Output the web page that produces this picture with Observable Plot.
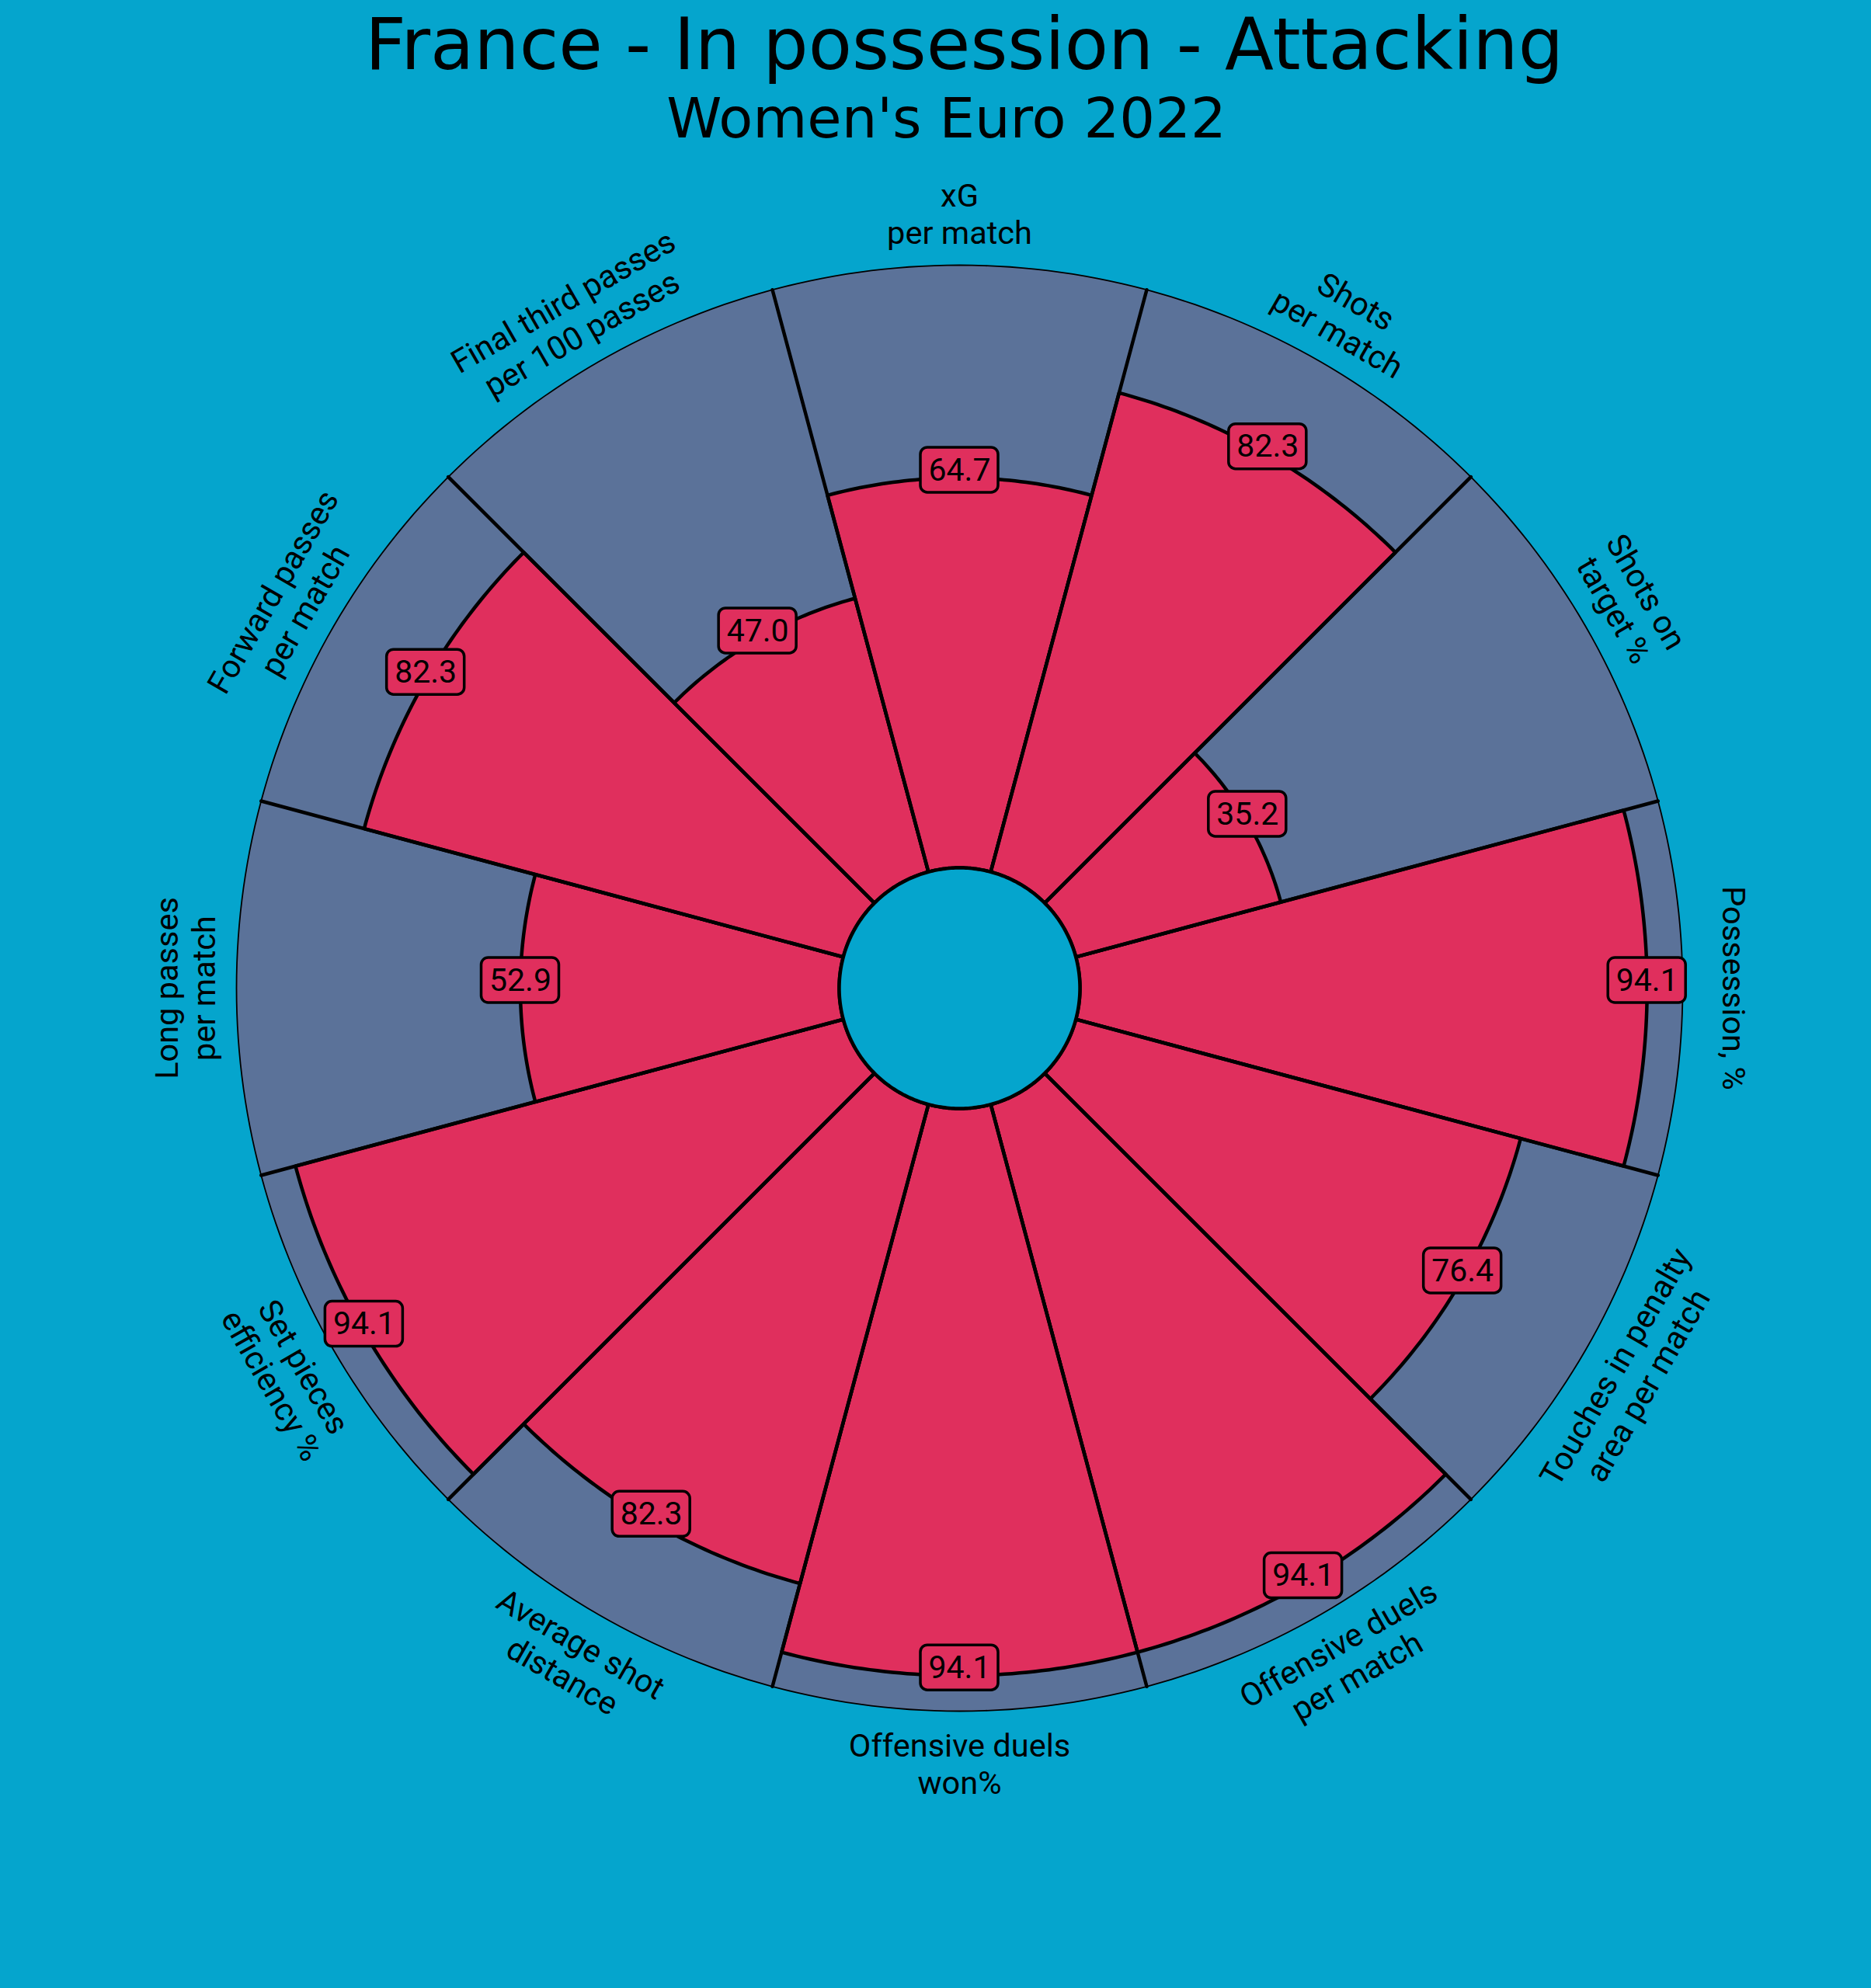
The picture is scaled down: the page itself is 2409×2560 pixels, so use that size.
<!DOCTYPE html>
<html>
<head>
<meta charset="utf-8">
<script src="https://cdn.jsdelivr.net/npm/d3@7"></script>
<script src="https://cdn.jsdelivr.net/npm/@observablehq/plot@0.6"></script>
<style>
  html, body { margin: 0; padding: 0; background: #05a5cd; }
  #wrap { position: relative; width: 2409px; height: 2560px; background: #05a5cd; overflow: hidden; }
  .ttl { position: absolute; width: 2409px; text-align: center; font-family: "DejaVu Sans", sans-serif; color: #000; line-height: 1; white-space: nowrap; }
  #title { top: 12px; left: 37px; font-size: 92px; }
  #subtitle { top: 116px; left: 14px; font-size: 72px; }
  #chart { position: absolute; left: 0; top: 200px; }
</style>
</head>
<body>
<div id="wrap">
  <div id="title" class="ttl"></div>
  <div id="subtitle" class="ttl"></div>
  <div id="chart"></div>
</div>
<script>
// ---- data ----
const title = "France - In possession - Attacking";
const subtitle = "Women's Euro 2022";
const categories = [
  "Possession, %",
  "Touches in penalty\narea per match",
  "Offensive duels\nper match",
  "Offensive duels\nwon%",
  "Average shot\ndistance",
  "Set pieces\nefficiency %",
  "Long passes\nper match",
  "Forward passes\nper match",
  "Final third passes\nper 100 passes",
  "xG\nper match",
  "Shots\nper match",
  "Shots on\ntarget %"
];
const values = [94.1, 76.4, 94.1, 94.1, 82.3, 94.1, 52.9, 82.3, 47.0, 64.7, 82.3, 35.2];

// ---- style / layout ----
const BG = "#05a5cd", SLICE_BG = "#5b7299", RED = "#e02f5d";
const W = 2409, H = 2360, CX = 1235, CY = 1072;
const R0 = 155, R1 = 931, RL = 998, LBL_DY = 10;
const STEP = 360 / categories.length;
const r = d3.scaleLinear().domain([0, 100]).range([R0, R1]);
const rad = d => d * Math.PI / 180;
const angleOf = i => -STEP * i;

function wedge(i, rin, rout) {
  const a = angleOf(i), pts = [], n = 48;
  for (let k = 0; k <= n; k++) {
    const t = rad(a - STEP / 2 + STEP * k / n);
    pts.push({x: rout * Math.cos(t), y: rout * Math.sin(t), i});
  }
  for (let k = n; k >= 0; k--) {
    const t = rad(a - STEP / 2 + STEP * k / n);
    pts.push({x: rin * Math.cos(t), y: rin * Math.sin(t), i});
  }
  pts.push({...pts[0]});
  return pts;
}
function circle(rr) {
  const pts = [];
  for (let k = 0; k <= 360; k++) pts.push({x: rr * Math.cos(rad(k)), y: rr * Math.sin(rad(k))});
  return pts;
}

const bgWedges = categories.flatMap((c, i) => wedge(i, R0, R1));
const valWedges = values.flatMap((v, i) => wedge(i, R0, r(v)));
const spokes = categories.flatMap((c, i) => {
  const t = rad(angleOf(i) + STEP / 2);
  return [{x: 0, y: 0, i}, {x: R1 * Math.cos(t), y: R1 * Math.sin(t), i}];
});
const valLabels = values.map((v, i) => {
  const t = rad(angleOf(i));
  return {x: r(v) * Math.cos(t), y: r(v) * Math.sin(t) + LBL_DY, label: v.toFixed(1)};
});
const paramLabels = categories.map((c, i) => {
  let a = angleOf(i);
  if (a <= -180) a += 360;
  const t = rad(a);
  const rot = (a >= 0 || a === 180) ? 90 - a : -90 - a;
  return {x: RL * Math.cos(t), y: RL * Math.sin(t), text: c, rot};
});

document.getElementById("title").textContent = title;
document.getElementById("subtitle").textContent = subtitle;

const chart = Plot.plot({
  width: W,
  height: H,
  margin: 0,
  style: {background: "transparent", overflow: "visible"},
  x: {domain: [-CX, W - CX], range: [0, W], axis: null},
  y: {domain: [-(H - CY), CY], range: [H, 0], axis: null},
  marks: [
    Plot.line(bgWedges, {x: "x", y: "y", z: "i", fill: SLICE_BG, stroke: "none", curve: "linear"}),
    Plot.line(valWedges, {x: "x", y: "y", z: "i", fill: RED, stroke: "black", strokeWidth: 4.5, curve: "linear"}),
    Plot.line(spokes, {x: "x", y: "y", z: "i", stroke: "black", strokeWidth: 4.5}),
    Plot.line(circle(R1), {x: "x", y: "y", stroke: "black", strokeWidth: 1.8, fill: "none"}),
    Plot.line(circle(R0), {x: "x", y: "y", stroke: "black", strokeWidth: 4.5, fill: BG}),
    Plot.rect(valLabels, {x1: d => d.x - 50, x2: d => d.x + 50, y1: d => d.y - 29, y2: d => d.y + 29, rx: 9, fill: RED, stroke: "black", strokeWidth: 3.5}),
    Plot.text(valLabels, {x: "x", y: "y", text: "label", fontSize: 41, fontFamily: "Roboto", fill: "black", textAnchor: "middle", lineAnchor: "middle"}),
    Plot.text(paramLabels, {x: "x", y: "y", text: "text", rotate: "rot", fontSize: 41.5, fontFamily: "Roboto", fill: "black", textAnchor: "middle", lineAnchor: "middle", lineHeight: 1.15})
  ]
});
document.getElementById("chart").appendChild(chart);
</script>
</body>
</html>
